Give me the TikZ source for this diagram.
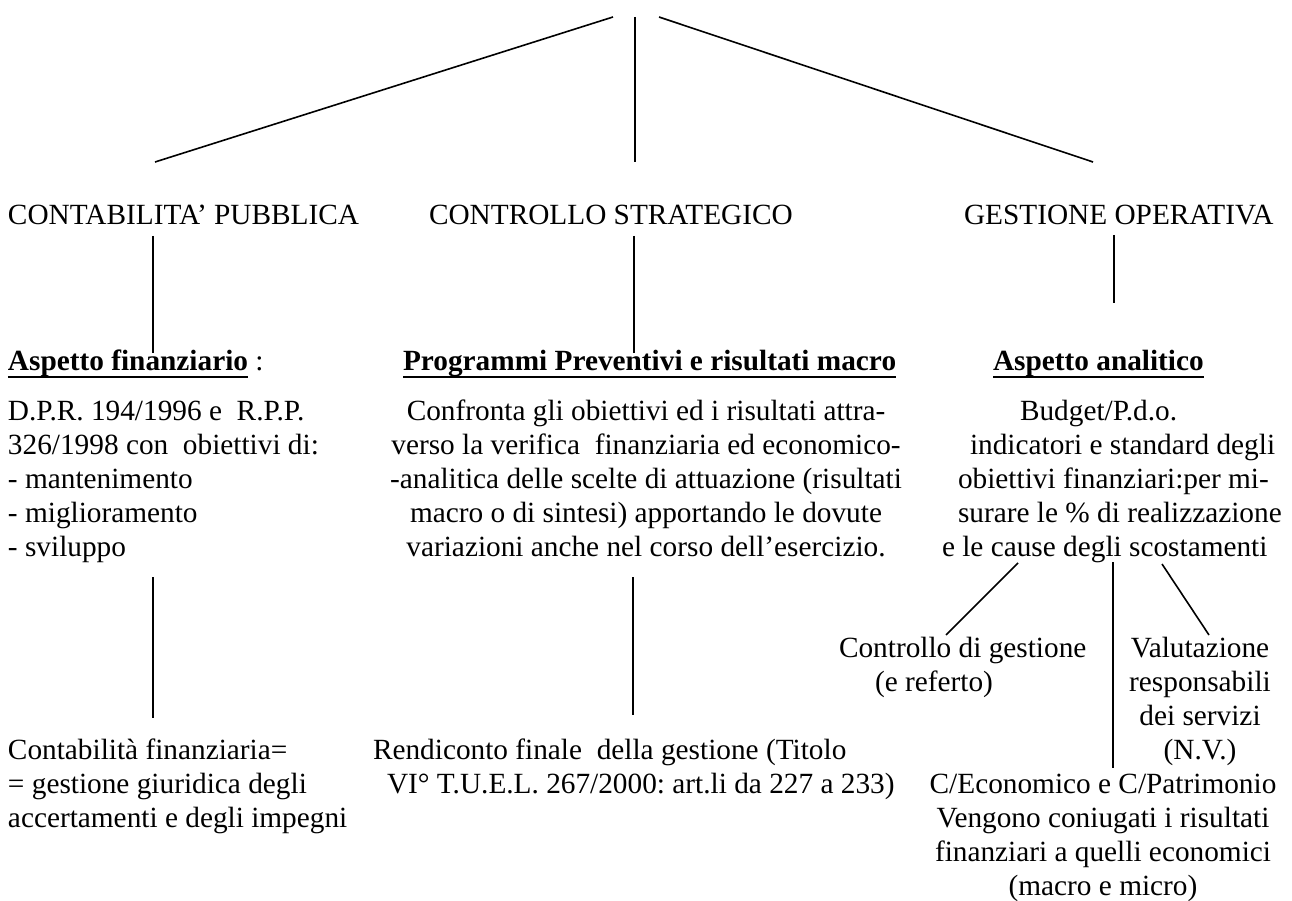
\documentclass[tikz,border=0pt]{standalone}
\usepackage{fontspec}
\setmainfont{Liberation Serif}
\frenchspacing
\newcommand\myul[1]{\setbox0\hbox{#1}\rlap{\rule[-7.5pt]{\wd0}{1.6pt}}\box0}
\tikzset{
  txt/.style={anchor=base west, inner sep=0pt, outer sep=0pt, align=left,
    font={\fontsize{29.3}{34}\selectfont}},
  ctxt/.style={txt, anchor=base, align=center},
  link/.style={line width=1.6pt, draw=black}
}
\begin{document}
\begin{tikzpicture}[x=1pt,y=-1pt]
\useasboundingbox (0,0) rectangle (1292,901);
\fill[white] (0,0) rectangle (1292,901);

% top fan
\coordinate (t1) at (613,17);  \coordinate (b1) at (155,162);
\coordinate (t2) at (635,17);  \coordinate (b2) at (635,162);
\coordinate (t3) at (659,17);  \coordinate (b3) at (1093,162);
\draw[link] (t1) -- (b1);
\draw[link] (t2) -- (b2);
\draw[link] (t3) -- (b3);

% headers
\node[txt] (cp) at (8,225) {CONTABILITA’ PUBBLICA};
\node[txt] (cs) at (429,225) {CONTROLLO STRATEGICO};
\node[txt] (go) at (964,225) {GESTIONE OPERATIVA};

% headings
\node[txt] (af) at (8,370) {\myul{\textbf{Aspetto finanziario}}~:};
\node[txt] (pp) at (403,370) {\myul{\textbf{Programmi Preventivi e risultati macro}}};
\node[txt] (aa) at (993,370) {\myul{\textbf{Aspetto analitico}}};

% connectors header -> heading
\coordinate (c1a) at (153,236); \coordinate (c1b) at (153,353);
\coordinate (c2a) at (634,236); \coordinate (c2b) at (634,353);
\coordinate (c3a) at (1114,235); \coordinate (c3b) at (1114,303);
\draw[link] (c1a) -- (c1b);
\draw[link] (c2a) -- (c2b);
\draw[link] (c3a) -- (c3b);

% paragraphs (base anchor = last line)
\node[txt] (p1) at (8,556) {D.P.R. 194/1996 e\ \ R.P.P.\\326/1998 con\ \ obiettivi di:\\- mantenimento\\- miglioramento\\- sviluppo};
\node[ctxt] (p2) at (646,556) {Confronta gli obiettivi ed i risultati attra-\\verso la verifica\ \ finanziaria ed economico-\\-analitica delle scelte di attuazione (risultati\\macro o di sintesi) apportando le dovute\\variazioni anche nel corso dell’esercizio.};
\node[txt] (p3) at (942,556) {\hspace*{78pt}Budget/P.d.o.\\\hspace*{28pt}indicatori e standard degli\\\hspace*{16pt}obiettivi finanziari:per mi-\\\hspace*{16pt}surare le \% di realizzazione\\e le cause degli scostamenti};

% lower connectors
\coordinate (d1a) at (153,577); \coordinate (d1b) at (153,718);
\coordinate (d2a) at (633,577); \coordinate (d2b) at (633,715);
\draw[link] (d1a) -- (d1b);
\draw[link] (d2a) -- (d2b);

\coordinate (e1a) at (1018,563); \coordinate (e1b) at (946,635);
\coordinate (e2a) at (1113,562); \coordinate (e2b) at (1113,768);
\coordinate (e3a) at (1162,564); \coordinate (e3b) at (1209,635);
\draw[link] (e1a) -- (e1b);
\draw[link] (e2a) -- (e2b);
\draw[link] (e3a) -- (e3b);

% bottom texts (base anchor = last line)
\node[txt] (cf) at (8,827) {Contabilità finanziaria=\\= gestione giuridica degli\\accertamenti e degli impegni};
\node[txt] (rf) at (373,793) {Rendiconto finale\ \ della gestione (Titolo\\\hspace*{14pt}VI° T.U.E.L. 267/2000: art.li da 227 a 233)};
\node[txt] (cg) at (839,691) {Controllo di gestione\\\hspace*{36pt}(e referto)};
\node[ctxt] (vr) at (1200,759) {Valutazione\\responsabili\\dei servizi\\(N.V.)};
\node[ctxt] (ce) at (1103,895) {C/Economico e C/Patrimonio\\Vengono coniugati i risultati\\finanziari a quelli economici\\(macro e micro)};
\end{tikzpicture}
\end{document}
